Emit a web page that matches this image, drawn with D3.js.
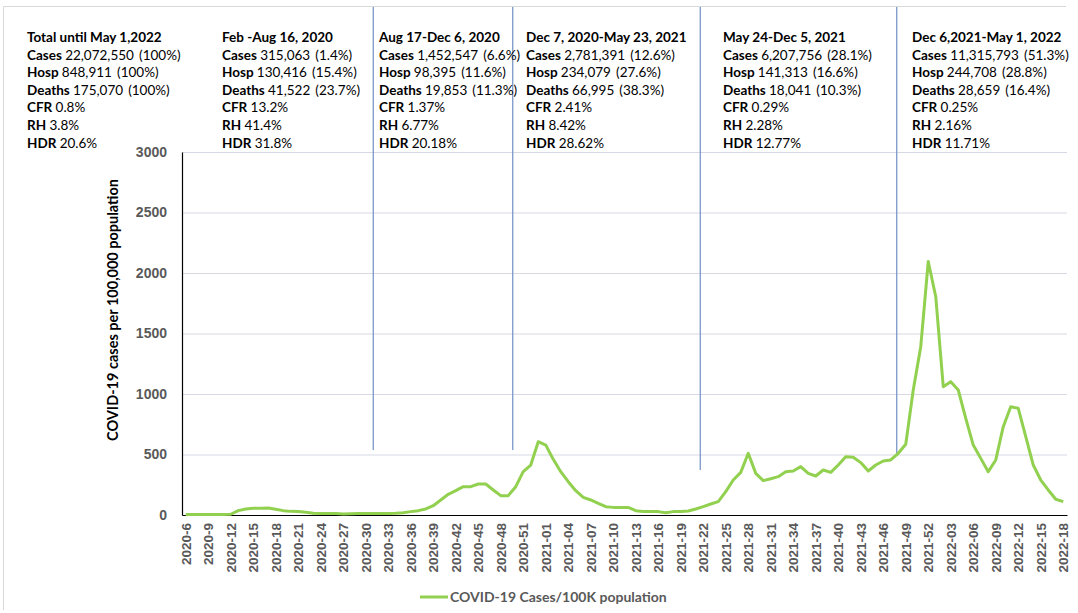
<!DOCTYPE html>
<html>
<head>
<meta charset="utf-8">
<script src="https://cdn.jsdelivr.net/npm/d3@7"></script>
<style>
  body { margin: 0; background: #fff; }
  svg { font-family: Lato, "Open Sans", sans-serif; }
</style>
</head>
<body>
<div id="chart"></div>
<script>
// weekly cases per 100K, 2020-6 .. 2022-18
var values = [5, 5, 5, 5, 5, 5, 6, 36, 50, 55, 56, 57, 47, 36, 30, 28, 22, 14, 12, 12,
  12, 8, 10, 12, 12, 12, 12, 12, 14, 19, 28, 36, 50, 77, 124, 171, 201, 234, 234, 256,
  256, 207, 160, 160, 234, 358, 413, 606, 578, 460, 358, 275, 201, 146, 124, 97, 69, 63, 63, 63,
  36, 28, 28, 28, 19, 28, 28, 33, 50, 69, 91, 110, 193, 289, 352, 510, 344, 284, 300, 317,
  358, 364, 400, 344, 322, 372, 352, 413, 482, 477, 433, 364, 413, 446, 455, 510, 585, 1033, 1391, 2095,
  1804, 1060, 1102, 1033, 799, 578, 468, 358, 455, 730, 895, 882, 647, 413, 289, 207, 130, 110]

var yTicks = [0, 500, 1000, 1500, 2000, 2500, 3000]
var seriesName = "COVID-19 Cases/100K population"
var yTitle = "COVID-19 cases per 100,000 population"

// period dividers: position in weeks from the first week, value where the line stops
var dividerPos = [25, 43.6, 68.6, 94.8]
var dividerEnd = [537, 537, 372, 512]

var periods = ["Total until May 1,2022", "Feb -Aug 16, 2020", "Aug 17-Dec 6, 2020",
  "Dec 7, 2020-May 23, 2021", "May 24-Dec 5, 2021", "Dec 6,2021-May 1, 2022"]
var cases = ["22,072,550  (100%)", "315,063  (1.4%)", "1,452,547  (6.6%)",
  "2,781,391  (12.6%)", "6,207,756  (28.1%)", "11,315,793  (51.3%)"]
var hosp = ["848,911  (100%)", "130,416  (15.4%)", "98,395  (11.6%)",
  "234,079  (27.6%)", "141,313  (16.6%)", "244,708  (28.8%)"]
var deaths = ["175,070  (100%)", "41,522  (23.7%)", "19,853  (11.3%)",
  "66,995  (38.3%)", "18,041  (10.3%)", "28,659  (16.4%)"]
var cfr = ["0.8%", "13.2%", "1.37%", "2.41%", "0.29%", "0.25%"]
var rh = ["3.8%", "41.4%", "6.77%", "8.42%", "2.28%", "2.16%"]
var hdr = ["20.6%", "31.8%", "20.18%", "28.62%", "12.77%", "11.71%"]

// week labels
var weeks = []
for (var w = 6; w <= 53; w++) weeks.push("2020-" + w)
for (var w = 1; w <= 52; w++) weeks.push("2021-" + String(w).padStart(2, "0"))
for (var w = 1; w <= 18; w++) weeks.push("2022-" + String(w).padStart(2, "0"))
var tickLabels = weeks.filter(function(d, i) { return i % 3 == 0 })

var width = 1078, height = 613
var margin = {top: 152, right: 11, bottom: 98, left: 182}
var plotW = width - margin.left - margin.right,
    plotH = height - margin.top - margin.bottom

var svg = d3.select("#chart").append("svg")
  .attr("width", width)
  .attr("height", height)

// frame of the text box
svg.append("path")
  .attr("d", "M3.5,610 V6.5 H1066")
  .attr("fill", "none")
  .attr("stroke", "#d9d9d9")

var x = d3.scalePoint().domain(weeks).range([0, plotW]).padding(0.5)
var xi = d3.scaleLinear().domain([0, weeks.length - 1])
  .range([x(weeks[0]), x(weeks[weeks.length - 1])])
var y = d3.scaleLinear().domain([0, 3000]).range([plotH, 0])

var g = svg.append("g").attr("transform", `translate(${margin.left},${margin.top})`)

// grid
g.selectAll(".grid").data(yTicks.filter(function(d) { return d > 0 }))
  .enter().append("line")
  .attr("x1", 0).attr("x2", plotW)
  .attr("y1", function(d) { return y(d) + 0.5 })
  .attr("y2", function(d) { return y(d) + 0.5 })
  .attr("stroke", "#d6d9e3")
  .attr("stroke-width", 1.2)

// y axis
var yAxis = g.append("g")
  .call(d3.axisLeft(y).tickValues(yTicks).tickFormat(d3.format("d")).tickSize(0).tickPadding(15))
yAxis.select(".domain").attr("stroke", "#000").attr("stroke-width", 1.2)
yAxis.selectAll("text")
  .attr("fill", "#595959")
  .style("font-size", "14px")
  .style("font-weight", "bold")

// x axis
var xAxis = g.append("g")
  .attr("transform", `translate(0,${plotH})`)
  .call(d3.axisBottom(x).tickValues(tickLabels).tickSize(0).tickSizeOuter(0))
xAxis.select(".domain").attr("stroke", "#000").attr("stroke-width", 1.2)
xAxis.selectAll("text")
  .attr("fill", "#595959")
  .style("font-size", "13.5px")
  .style("font-weight", "bold")
  .attr("text-anchor", "end")
  .attr("dy", "0.35em")
  .attr("transform", "translate(0,8) rotate(-90)")
  .attr("x", 0).attr("y", 0)

// dividers
g.selectAll(".divider").data(dividerPos)
  .enter().append("line")
  .attr("x1", function(d) { return xi(d) })
  .attr("x2", function(d) { return xi(d) })
  .attr("y1", 7 - margin.top)
  .attr("y2", function(d, i) { return y(dividerEnd[i]) })
  .attr("stroke", "#6f8fc4")
  .attr("stroke-width", 1.2)

// line
var line = d3.line()
  .x(function(d, i) { return x(weeks[i]) })
  .y(function(d) { return y(d) })
g.append("path")
  .attr("d", line(values))
  .attr("fill", "none")
  .attr("stroke", "#92d050")
  .attr("stroke-width", 3)
  .attr("stroke-linejoin", "round")

// y title
svg.append("text")
  .attr("transform", "translate(118,310) rotate(-90)")
  .attr("text-anchor", "middle")
  .style("font-size", "14.5px")
  .style("font-weight", "bold")
  .text(yTitle)

// legend
var leg = svg.append("g").attr("transform", "translate(420,597)")
leg.append("line").attr("x1", 0).attr("x2", 28).attr("stroke", "#92d050").attr("stroke-width", 3)
leg.append("text").attr("x", 30).attr("dy", "0.35em")
  .attr("fill", "#595959")
  .style("font-size", "14px")
  .style("font-weight", "bold")
  .text(seriesName)

// period text blocks
var colX = [27, 222, 379, 526, 723, 912]
var rows = [["Cases", cases], ["Hosp", hosp], ["Deaths", deaths], ["CFR", cfr], ["RH", rh], ["HDR", hdr]]
periods.forEach(function(p, i) {
  var t = svg.append("text")
    .attr("x", colX[i]).attr("y", 42)
    .style("font-size", "13.5px")
  t.append("tspan").attr("x", colX[i]).attr("y", 42)
    .style("font-weight", "bold").text(p)
  rows.forEach(function(r, j) {
    var ts = t.append("tspan").attr("x", colX[i]).attr("y", 42 + (j + 1) * 17.6)
    ts.append("tspan").style("font-weight", "bold").text(r[0] + " ")
    ts.append("tspan").text(r[1][i].replace(/ /g, "\u00a0").replace("\u00a0\u00a0", "\u00a0\u2009"))
  })
})
</script>
</body>
</html>
